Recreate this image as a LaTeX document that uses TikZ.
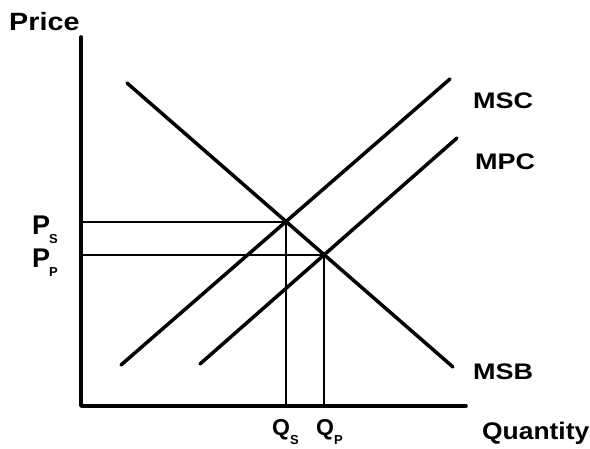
\documentclass[tikz,border=0pt]{standalone}
\usepackage{fontspec}
\setmainfont{Liberation Sans}
\newfontfamily\curvefont{Liberation Sans}[FakeStretch=1.2]
\newfontfamily\axisfont{Liberation Sans}[FakeStretch=1.1]
\newfontfamily\pricefont{Liberation Sans}[FakeStretch=1.15]
\usetikzlibrary{intersections}

\newcommand{\lowsub}[2][0pt]{\kern#1\raisebox{-9pt}{\fontsize{13}{13}\selectfont #2}}

\begin{document}
\begin{tikzpicture}[
        x=1pt, y=1pt,
        line cap=round, line join=round,
        every node/.style={inner sep=0pt, anchor=base west},
        axis/.style={line width=3.6pt},
        curve/.style={line width=3.5pt},
        guide/.style={line width=2pt},
        curvelabel/.style={font=\curvefont\bfseries\fontsize{22.5}{22.5}\selectfont},
        axislabel/.style={font=\axisfont\bfseries\fontsize{24}{24}\selectfont},
        pricelabel/.style={font=\pricefont\bfseries\fontsize{25}{25}\selectfont},
        plabel/.style={font=\bfseries\fontsize{27}{27}\selectfont},
        qlabel/.style={font=\bfseries\fontsize{23}{23}\selectfont}
    ]

        \useasboundingbox (0,0) rectangle (590,449);

        \coordinate (O) at (81,43);
        \coordinate (ytop) at (81,412);
        \coordinate (xend) at (466,43);

        % Axes
        \draw[axis] (ytop) -- (O) -- (xend);

        % Curves
        \coordinate (msb1) at (127,366);
        \coordinate (msb2) at (453,82);
        \coordinate (msc1) at (121,84);
        \coordinate (msc2) at (450,370);
        \coordinate (mpc1) at (200,85);
        \coordinate (mpc2) at (457,311);

        \draw[curve, name path=msb] (msb1) -- (msb2);
        \draw[curve, name path=msc] (msc1) -- (msc2);
        \draw[curve, name path=mpc] (mpc1) -- (mpc2);

        \path[name intersections={of=msb and msc, by=eS}];
        \path[name intersections={of=msb and mpc, by=eP}];

        % Equilibria
        \draw[guide] (O |- eS) -- (eS) -- (eS |- O);
        \draw[guide] (O |- eP) -- (eP) -- (eP |- O);

        % Labels
        \node[pricelabel] (price) at (9,418) {Price};
        \node[axislabel] (qty) at (482,9) {Quantity};

        \node[curvelabel] (msc) at (473,340) {MSC};
        \node[curvelabel] (mpc) at (475,279) {MPC};
        \node[curvelabel] (msb) at (473,69) {MSB};

        \node[plabel] (ps) at (32,214) {P\lowsub[-1pt]{S}};
        \node[plabel] (pp) at (32,181) {P\lowsub[-1pt]{P}};

        \node[qlabel] (qs) at (272,13) {Q\lowsub[0pt]{S}};
        \node[qlabel] (qp) at (316,13) {Q\lowsub[0pt]{P}};

    \end{tikzpicture}
\end{document}
